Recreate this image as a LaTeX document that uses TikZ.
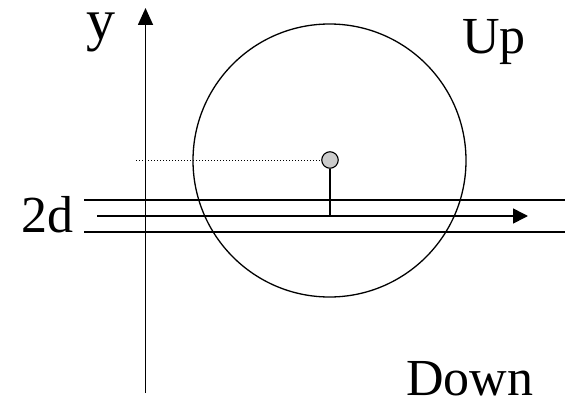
\documentclass[tikz,border=0pt]{standalone}
\usepackage{fontspec}
\setmainfont{Liberation Serif}
\usetikzlibrary{arrows.meta}
\begin{document}
\begin{tikzpicture}[x=1pt,y=-1pt,
  lbl/.style={inner sep=0pt,anchor=base west,font=\fontsize{52}{60}\selectfont},
  rail/.style={line width=2pt},
  axisline/.style={line width=1.7pt,-{Triangle[length=17pt,width=15pt]}},
  track/.style={line width=1.6pt,-{Triangle[length=15pt,width=15pt]}},
  bigcirc/.style={draw,circle,line width=1.3pt,minimum size=273pt,inner sep=0pt},
  pinball/.style={draw,circle,line width=1.1pt,fill=black!20,minimum size=16.5pt,inner sep=0pt}]
\useasboundingbox (0,0) rectangle (570,396);
% labels
\node[lbl,font=\fontsize{58}{64}\selectfont] (ylbl) at (86,40) {y};
\node[lbl] (up) at (462,53) {Up};
\node[lbl] (down) at (406,395) {Down};
\node[lbl] (twod) at (21,232) {2d};
% big circle
\node[bigcirc] (ring) at (329.5,160.5) {};
% rails
\coordinate (railTL) at (84,200);
\coordinate (railTR) at (565,200);
\coordinate (railBL) at (84,232);
\coordinate (railBR) at (565,232);
\draw[rail] (railTL) -- (railTR);
\draw[rail] (railBL) -- (railBR);
% track with arrow
\coordinate (trackL) at (97,216);
\coordinate (trackR) at (528,216);
\coordinate (foot) at (330,216);
\draw[track] (trackL) -- (trackR);
% y axis
\coordinate (axisB) at (145.5,393);
\coordinate (axisT) at (145.5,8);
\draw[axisline] (axisB) -- (axisT);
% pin
\node[pinball] (pin) at (330,160) {};
\draw[line width=1.1pt] (pin.south) -- (foot);
\coordinate (dotL) at (136,160);
\draw[line width=1pt,dotted] (dotL) -- (pin.west);
\end{tikzpicture}
\end{document}
